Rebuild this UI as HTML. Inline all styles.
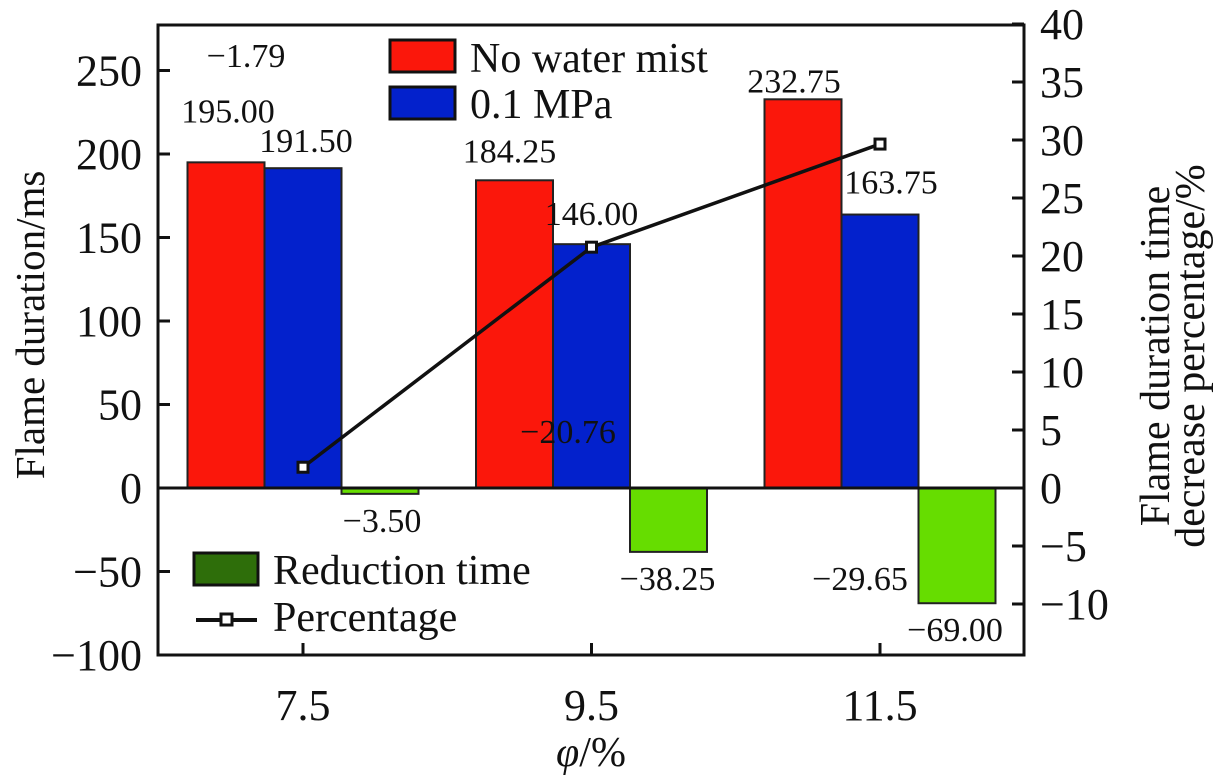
<!DOCTYPE html>
<html><head><meta charset="utf-8"><style>
html,body{margin:0;padding:0;background:#fff;}
svg{display:block;font-family:"Liberation Serif","DejaVu Serif","Times New Roman",serif;}
text{font-family:"Liberation Serif","DejaVu Serif","Times New Roman",serif;}
</style></head><body>
<svg id="chart" width="1228" height="780" viewBox="0 0 1228 780"></svg>
<script>
const categories = ["7.5","9.5","11.5"];
const noMist = [195.00, 184.25, 232.75];
const mist01 = [191.50, 146.00, 163.75];
const reduction = [-3.50, -38.25, -69.00];
const percentage = [1.79, 20.76, 29.65];
const leftTicks = [250,200,150,100,50,0,-50,-100];
const rightTicks = [40,35,30,25,20,15,10,5,0,-5,-10];

const NS="http://www.w3.org/2000/svg";
const FF='"Liberation Serif","DejaVu Serif","Times New Roman",serif';
const svg=document.getElementById('chart');
const X0=158,X1=1024,Y0=25,Y1=655;
const yL=v=>488-v*1.67;
const yR=v=>488-v*11.6;
const xC=i=>303+i*288.5;
function mk(tag,attrs,parent){const e=document.createElementNS(NS,tag);for(const k in attrs)e.setAttribute(k,attrs[k]);(parent||svg).appendChild(e);return e;}
function txt(s,x,y,size,anchor,parent){const t=mk('text',{x:x,y:y,'font-size':size,'font-family':FF,'text-anchor':anchor||'middle',fill:'#111'},parent);t.textContent=s;return t;}
const fmt=v=>(v<0?'\u2212':'')+Math.abs(v).toFixed(2);

function bar(v,cx,fill,name){
  const y=Math.min(yL(v),yL(0)),h=Math.abs(yL(v)-yL(0));
  const r=mk('rect',{x:cx-38.5,y:y,width:77,height:h,fill:fill,stroke:'#222','stroke-width':2});
  
  
}
categories.forEach((c,i)=>{
  bar(noMist[i],xC(i)-77,'#fb170b','bar-no-water-mist-'+c);
  bar(mist01[i],xC(i),'#0321cc','bar-0-1-mpa-'+c);
  bar(reduction[i],xC(i)+77,'#66dd00','bar-reduction-'+c);
});
const zl=mk('line',{x1:X0,y1:yL(0),x2:X1,y2:yL(0),stroke:'#111','stroke-width':3});


const fr=mk('rect',{x:X0,y:Y0,width:X1-X0,height:Y1-Y0,fill:'none',stroke:'#111','stroke-width':3});


leftTicks.forEach(v=>{
  mk('line',{x1:X0,y1:yL(v),x2:X0+12,y2:yL(v),stroke:'#111','stroke-width':3});
  const t=txt(v<0?'\u2212'+(-v):String(v),142,yL(v)+15,44,'end');
  
  
});
rightTicks.forEach(v=>{
  mk('line',{x1:X1-12,y1:yR(v),x2:X1,y2:yR(v),stroke:'#111','stroke-width':3});
  const t=txt(v<0?'\u2212'+(-v):String(v),1040,yR(v)+15,44,'start');
  
  
});
categories.forEach((c,i)=>{
  mk('line',{x1:xC(i),y1:Y1,x2:xC(i),y2:Y1-12,stroke:'#111','stroke-width':3});
  const t=txt(c,xC(i),720,44,'middle');
  
  
});
const pts=percentage.map((v,i)=>xC(i)+','+yR(v)).join(' ');
const pl=mk('polyline',{points:pts,fill:'none',stroke:'#111','stroke-width':3.5});


percentage.forEach((v,i)=>{
  const m=mk('rect',{x:xC(i)-5,y:yR(v)-5,width:10,height:10,fill:'#fff',stroke:'#111','stroke-width':3});
  
  
});
const noMistDy=[-40,-18,-7];
const noMistDx=[2,-5,-9];
const mistDy=[-16,-19,-21];
const mistDx=[3,0,11];
noMist.forEach((v,i)=>{const t=txt(fmt(v),xC(i)-77+noMistDx[i],yL(v)+noMistDy[i],34);});
mist01.forEach((v,i)=>{const t=txt(fmt(v),xC(i)+mistDx[i],yL(v)+mistDy[i],34);});
reduction.forEach((v,i)=>{const t=txt(fmt(v),xC(i)+77+(i==0?2:(i==1?-1:-2)),yL(v)+38,34);});
const pctPos=[[246,67],[568,443],[860,590]];
percentage.forEach((v,i)=>{const t=txt(fmt(-v),pctPos[i][0],pctPos[i][1],34);});
const l1=mk('g',{});


mk('rect',{x:390,y:40,width:65,height:32,fill:'#fb170b',stroke:'#111','stroke-width':3},l1);
txt('No water mist',470,72,42,'start',l1);
mk('rect',{x:390,y:87,width:65,height:32,fill:'#0321cc',stroke:'#111','stroke-width':3},l1);
txt('0.1 MPa',470,118,42,'start',l1);
const l2=mk('g',{});


mk('rect',{x:194,y:553,width:64,height:32,fill:'#2e6e0a',stroke:'#111','stroke-width':3},l2);
txt('Reduction time',273,584,42,'start',l2);
mk('line',{x1:196,y1:620,x2:257,y2:620,stroke:'#111','stroke-width':4},l2);
mk('rect',{x:221,y:614,width:11,height:11,fill:'#fff',stroke:'#111','stroke-width':3},l2);
txt('Percentage',273,631,42,'start',l2);
const yt=txt('Flame duration/ms',0,0,41,'middle');
yt.setAttribute('transform','translate(44,325) rotate(-90)');


const r1=txt('Flame duration time',0,0,42,'middle');
r1.setAttribute('transform','translate(1169,356) rotate(-90)');


const r2=txt('decrease percentage/%',0,0,42,'middle');
r2.setAttribute('transform','translate(1204,356) rotate(-90)');


const xt=mk('text',{x:591,y:766,'font-size':42,'font-family':FF,'text-anchor':'middle',fill:'#111'});
xt.innerHTML='<tspan font-style="italic">φ</tspan>/%';


</script>
</body></html>
